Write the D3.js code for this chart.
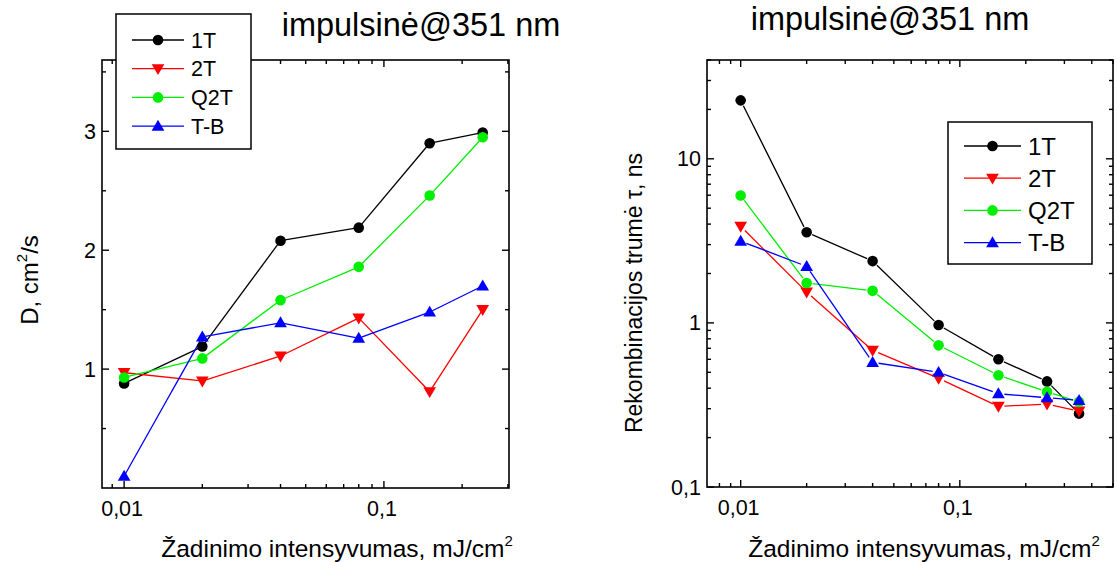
<!DOCTYPE html>
<html><head><meta charset="utf-8">
<script src="https://cdn.jsdelivr.net/npm/d3@7"></script>
<style>body{margin:0;background:#fff}svg{display:block}text{font-family:"Liberation Sans",Arial,sans-serif;fill:#000}</style>
</head><body>
<svg id="c" width="1117" height="562"></svg>
<script>
const seriesNames = ["1T","2T","Q2T","T-B"];
const seriesColors = ["#000000","#ff0000","#00ee00","#0000ff"];
const seriesSymbols = ["circle","down","circle","up"];

// Left panel: D, cm2/s
const xLeft = [0.01,0.02,0.04,0.08,0.15,0.24];
const dLeft = {
  "1T":  [0.88,1.19,2.08,2.19,2.90,2.99],
  "2T":  [0.97,0.90,1.11,1.43,0.81,1.50],
  "Q2T": [0.93,1.09,1.58,1.86,2.46,2.95],
  "T-B": [0.10,1.27,1.39,1.26,1.48,1.70]
};
const yTicksLeft = [1,2,3];
const yMinorLeft = [0.5,1.5,2.5,3.5];

// Right panel: recombination time, ns
const xRight = [0.01,0.02,0.04,0.08,0.15,0.25,0.35];
const tauRight = {
  "1T":  [22.7,3.57,2.38,0.97,0.60,0.44,0.28],
  "2T":  [3.88,1.54,0.68,0.46,0.31,0.32,0.29],
  "Q2T": [5.97,1.75,1.57,0.73,0.48,0.38,0.33],
  "T-B": [3.15,2.21,0.575,0.50,0.37,0.35,0.337]
};
const yTicksRight = [0.1,1,10];
const xTicks = [0.01,0.1];
const fmt = v => String(v).replace(".", ",");

const svg = d3.select("#c");

function symbolPath(type, r){
  const h = r*1.15, w = r*1.2;
  if(type==="down") return `M${-w},${-h*0.75}L${w},${-h*0.75}L0,${h*1.05}Z`;
  return `M${-w},${h*0.75}L${w},${h*0.75}L0,${-h*1.05}Z`;
}
function drawMarker(g, type, x, y, color, r){
  if(type==="circle") g.append("circle").attr("cx",x).attr("cy",y).attr("r",r).attr("fill",color);
  else g.append("path").attr("d",symbolPath(type,r)).attr("transform",`translate(${x},${y})`).attr("fill",color);
}

function panel(opt){
  const g = svg.append("g");
  const x = opt.x, y = opt.y;
  const [x0,x1] = x.range(), [y1,y0] = y.range();
  seriesNames.forEach((n,i)=>{
    const pts = opt.xs.map((xv,j)=>[x(xv), y(opt.data[n][j])]);
    const gap = opt.gap;
    for(let j=0;j<pts.length-1;j++){
      const [ax,ay]=pts[j],[bx,by]=pts[j+1];
      const L=Math.hypot(bx-ax,by-ay);
      if(L<=2*gap) continue;
      const ux=(bx-ax)/L, uy=(by-ay)/L;
      g.append("line").attr("x1",ax+ux*gap).attr("y1",ay+uy*gap).attr("x2",bx-ux*gap).attr("y2",by-uy*gap)
        .attr("stroke",seriesColors[i]).attr("stroke-width",1.3);
    }
  });
  seriesNames.forEach((n,i)=>{
    opt.xs.forEach((xv,j)=>drawMarker(g,seriesSymbols[i],x(xv),y(opt.data[n][j]),seriesColors[i],5.3));
  });
  g.append("rect").attr("x",x0).attr("y",y0).attr("width",x1-x0).attr("height",y1-y0)
    .attr("fill","none").attr("stroke","#000").attr("stroke-width",1.6);
  const tk = (x1a,y1a,x2a,y2a)=>g.append("line").attr("x1",x1a).attr("y1",y1a).attr("x2",x2a).attr("y2",y2a).attr("stroke","#000").attr("stroke-width",1.4);
  const [dx0,dx1]=x.domain();
  const xMinor=[];
  for(let e=-3;e<=0;e++) for(let m=1;m<10;m++){const v=m*Math.pow(10,e); if(v>=dx0&&v<=dx1) xMinor.push({v,major:m===1});}
  xMinor.forEach(t=>{const px=x(t.v), L=t.major?7:4; tk(px,y1,px,y1-L); tk(px,y0,px,y0+L);});
  xTicks.forEach(v=>g.append("text").attr("x",x(v)-2).attr("y",y1+28).attr("text-anchor","middle").attr("font-size",21.5).text(fmt(v)));
  opt.yMinor.forEach(v=>{const py=y(v); tk(x0,py,x0+4,py); tk(x1,py,x1-4,py);});
  opt.yMajor.forEach(v=>{const py=y(v); tk(x0,py,x0+7,py); tk(x1,py,x1-7,py);
    g.append("text").attr("x",x0-6).attr("y",py+7.5).attr("text-anchor","end").attr("font-size",21.5).text(fmt(v));});
  const xl = g.append("text").attr("x",opt.xlx).attr("y",557).attr("text-anchor","middle").attr("font-size",24.5);
  xl.append("tspan").text("Žadinimo intensyvumas, mJ/cm");
  xl.append("tspan").attr("font-size",15).attr("dy",-11).text("2");
  g.append("text").attr("x",opt.tx).attr("y",opt.ty).attr("text-anchor","middle").attr("font-size",32.5).text("impulsinė@351 nm");
  const lg = opt.legend;
  g.append("rect").attr("x",lg.x).attr("y",lg.y).attr("width",lg.w).attr("height",lg.h).attr("fill","#fff").attr("stroke","#000").attr("stroke-width",1.5);
  seriesNames.forEach((n,i)=>{
    const yy = lg.y0 + i*lg.dy;
    g.append("line").attr("x1",lg.lx0).attr("x2",lg.lx1).attr("y1",yy).attr("y2",yy).attr("stroke",seriesColors[i]).attr("stroke-width",1.3);
    drawMarker(g,seriesSymbols[i],(lg.lx0+lg.lx1)/2,yy,seriesColors[i],5.3);
    g.append("text").attr("x",lg.tx).attr("y",yy+lg.fs*0.36).attr("font-size",lg.fs).text(n);
  });
  return g;
}

// Left
const xL = d3.scaleLog().domain([0.00822,0.303]).range([102,509]);
const yL = d3.scaleLinear().domain([0,3.6]).range([488,60]);
const gL = panel({x:xL,y:yL,xs:xLeft,data:dLeft,yMajor:yTicksLeft,yMinor:yMinorLeft,gap:3,
  xlx:337, tx:421, ty:36,
  legend:{x:116,y:14,w:135,h:135,y0:40,dy:28.7,lx0:132,lx1:184,tx:191,fs:21.5}});
const ylab = gL.append("text").attr("transform","translate(38,280) rotate(-90)").attr("text-anchor","middle").attr("font-size",24);
ylab.append("tspan").text("D, cm");
ylab.append("tspan").attr("font-size",15).attr("dy",-11).text("2");
ylab.append("tspan").attr("dy",11).text("/s");

// Right
const xR = d3.scaleLog().domain([0.00702,0.5]).range([707,1113]);
const yR = d3.scaleLog().domain([0.1,40]).range([487,60]);
const yMinorR=[]; for(let e=-1;e<=1;e++) for(let m=2;m<10;m++){const v=m*Math.pow(10,e); if(v<=40) yMinorR.push(v);}
const gR = panel({x:xR,y:yR,xs:xRight,data:tauRight,yMajor:yTicksRight,yMinor:yMinorR,gap:6,
  xlx:924, tx:890, ty:30,
  legend:{x:948,y:122,w:144,h:142,y0:146,dy:32.2,lx0:964,lx1:1021,tx:1028,fs:24}});
gR.append("text").attr("transform","translate(642,293) rotate(-90)").attr("text-anchor","middle").attr("font-size",23).text("Rekombinacijos trumė τ, ns");
</script>
</body></html>
